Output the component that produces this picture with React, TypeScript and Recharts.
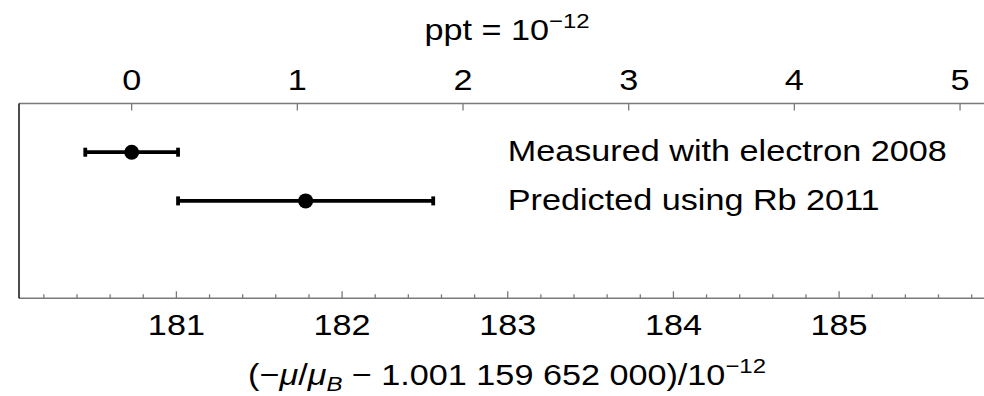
import React from "react";
import { ScatterChart, Scatter, XAxis, YAxis, ErrorBar, Label } from "recharts";

// g-factor results, in units of 1e-12 above 1.001 159 652 000
const rowNames = ["Measured with electron 2008", "Predicted using Rb 2011"];
const rowValues = [180.73, 181.78];
const rowErrors = [0.28, 0.77];
const rowLevels = [3, 2];

const bottomTicks = [
  180.2, 180.4, 180.6, 180.8, 181, 181.2, 181.4, 181.6, 181.8, 182, 182.2,
  182.4, 182.6, 182.8, 183, 183.2, 183.4, 183.6, 183.8, 184, 184.2, 184.4,
  184.6, 184.8, 185, 185.2, 185.4, 185.6, 185.8,
];
const pptTicks = [0, 1, 2, 3, 4, 5];
const pptZero = rowValues[0];

const X_DOMAIN: [number, number] = [180.05, 185.95];
const LABEL_X = 183.0;

const FONT = "Arial, 'Liberation Sans', sans-serif";
const AXIS = "#7a7a7a";
const SX = 1.14;

const points = rowNames.map((name, i) => ({
  x: rowValues[i],
  y: rowLevels[i],
  err: rowErrors[i],
  name,
}));

const labels = rowNames.map((name, i) => ({ x: LABEL_X, y: rowLevels[i], name }));

const BottomTick = (props: any) => {
  const { x, y, payload } = props;
  const major = Math.abs(payload.value - Math.round(payload.value)) < 1e-6;
  return (
    <g>
      <line x1={x} x2={x} y1={y} y2={y - (major ? 7 : 4)} stroke={AXIS} strokeWidth={1.3} />
      {major && (
        <text
          transform={`translate(${x},${y + 36.5}) scale(${SX},1)`}
          textAnchor="middle"
          fontSize={30}
          fontFamily={FONT}
          fill="#000"
        >
          {Math.round(payload.value)}
        </text>
      )}
    </g>
  );
};

const TopTick = (props: any) => {
  const { x, y, payload } = props;
  return (
    <g>
      <line x1={x} x2={x} y1={y} y2={y + 7} stroke={AXIS} strokeWidth={1.3} />
      <text
        transform={`translate(${x},${y - 14}) scale(${SX},1)`}
        textAnchor="middle"
        fontSize={30}
        fontFamily={FONT}
        fill="#000"
      >
        {Math.round(payload.value - pptZero)}
      </text>
    </g>
  );
};

const TopTitle = () => (
  <text
    transform={`translate(507,40) scale(${SX},1)`}
    textAnchor="middle"
    fontSize={30}
    fontFamily={FONT}
    fill="#000"
  >
    ppt = 10
    <tspan fontSize={21} dy={-12}>−12</tspan>
  </text>
);

const BottomTitle = () => (
  <text
    transform={`translate(507,384.5) scale(${SX},1)`}
    textAnchor="middle"
    fontSize={30}
    fontFamily={FONT}
    fill="#000"
  >
    (−<tspan fontStyle="italic">μ</tspan>/<tspan fontStyle="italic">μ</tspan>
    <tspan fontStyle="italic" fontSize={21} dy={6}>B</tspan>
    <tspan dy={-6}> − 1.001 159 652 000)/10</tspan>
    <tspan fontSize={21} dy={-12}>−12</tspan>
  </text>
);

const Dot = (p: any) => <circle cx={p.cx} cy={p.cy} r={7.5} fill="#000" />;

const RowLabel = (p: any) => (
  <text
    transform={`translate(${p.cx},${p.cy + 9}) scale(${SX},1)`}
    fontSize={30}
    fontFamily={FONT}
    fill="#000"
  >
    {p.payload.name}
  </text>
);

export default function App() {
  return (
    <div
      style={{
        position: "absolute",
        left: 0,
        top: 0,
        width: 984,
        height: 396,
        overflow: "hidden",
        background: "#fff",
      }}
    >
      <ScatterChart
        width={1000}
        height={396}
        margin={{ top: 102.5, right: 3.5, bottom: 96.7, left: 18 }}
      >
        <XAxis
          xAxisId="bottom"
          dataKey="x"
          type="number"
          orientation="bottom"
          domain={X_DOMAIN}
          allowDataOverflow
          ticks={bottomTicks}
          interval={0}
          height={1}
          tickSize={0}
          tickMargin={0}
          tickLine={false}
          axisLine={{ stroke: AXIS, strokeWidth: 1.5 }}
          tick={<BottomTick />}
        >
          <Label content={<BottomTitle />} />
        </XAxis>
        <XAxis
          xAxisId="top"
          dataKey="x"
          type="number"
          orientation="top"
          domain={X_DOMAIN}
          allowDataOverflow
          ticks={pptTicks.map((k) => pptZero + k)}
          interval={0}
          height={1}
          tickSize={0}
          tickMargin={0}
          tickLine={false}
          axisLine={{ stroke: AXIS, strokeWidth: 1.5 }}
          tick={<TopTick />}
        >
          <Label content={<TopTitle />} />
        </XAxis>
        <YAxis
          dataKey="y"
          type="number"
          domain={[0, 4]}
          width={1}
          tick={false}
          tickLine={false}
          axisLine={{ stroke: "#111", strokeWidth: 1.5 }}
        />
        <Scatter
          xAxisId="bottom"
          data={points}
          shape={<Dot />}
          isAnimationActive={false}
        >
          <ErrorBar
            dataKey="err"
            direction="x"
            width={4.5}
            stroke="#000"
            strokeWidth={3.8}
            isAnimationActive={false}
          />
        </Scatter>
        <Scatter
          xAxisId="bottom"
          data={labels}
          shape={<RowLabel />}
          isAnimationActive={false}
        />
      </ScatterChart>
    </div>
  );
}
